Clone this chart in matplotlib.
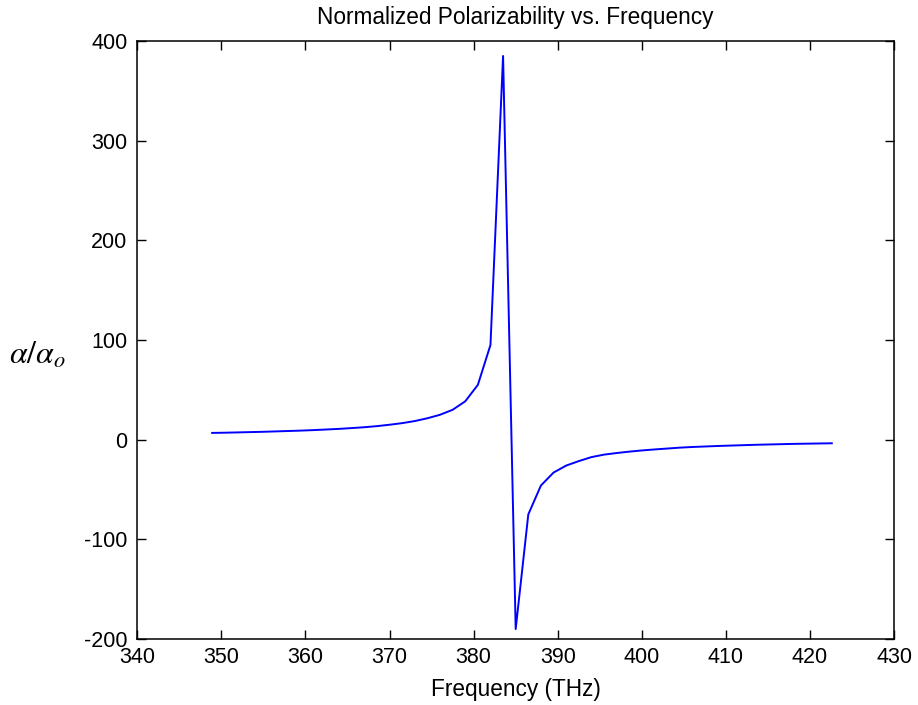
#!/usr/bin/env python3

import matplotlib
matplotlib.use("Agg")
import matplotlib.pyplot as plt


# frequency samples (THz)
freq = [348.9, 350.4, 351.9, 353.4, 354.9, 356.4, 357.9, 359.4, 360.9, 362.4,
        363.9, 365.4, 367.0, 368.5, 370.0, 371.5, 373.0, 374.5, 376.0, 377.5,
        379.0, 380.5, 382.0, 383.5, 385.0, 386.5, 388.0, 389.5, 391.0, 392.5,
        394.0, 395.5, 397.0, 398.5, 400.0, 401.5, 403.0, 404.5, 406.1, 407.6,
        409.1, 410.6, 412.1, 413.6, 415.1, 416.6, 418.1, 419.6, 421.1, 422.6]

# normalized polarizability alpha/alpha_o
alpha = [6.8, 7.0, 7.3, 7.6, 7.9, 8.3, 8.7, 9.1, 9.6, 10.2,
         10.8, 11.6, 12.5, 13.6, 15.0, 16.6, 18.7, 21.5, 25.0, 30.0,
         38.5, 55.0, 95.0, 385.0, -190.0, -75.0, -46.0, -33.0, -26.0, -21.5,
         -17.5, -15.0, -13.4, -12.0, -10.8, -9.8, -8.9, -8.0, -7.3, -6.8,
         -6.3, -5.9, -5.5, -5.1, -4.8, -4.5, -4.2, -4.0, -3.8, -3.6]

x_ticks = [340, 350, 360, 370, 380, 390, 400, 410, 420, 430]
y_ticks = [-200, -100, 0, 100, 200, 300, 400]

plt.rcParams['font.family'] = ['Liberation Sans', 'DejaVu Sans']
plt.rcParams['mathtext.fontset'] = 'stix'
plt.rcParams['axes.unicode_minus'] = False

fig = plt.figure(figsize=(9.18, 7.05), dpi=100)
ax = fig.add_axes([0.1496, 0.0936, 0.8243, 0.8482])

ax.plot(freq, alpha, color=(0, 0, 1), lw=1.4)

ax.set_xlim(340, 430)
ax.set_ylim(-200, 400)
ax.set_xticks(x_ticks)
ax.set_yticks(y_ticks)
ax.tick_params(direction='in', top=True, right=True, length=6.5, width=1,
               labelsize=15.5, colors='black')
ax.tick_params(axis='x', pad=6)
ax.tick_params(axis='y', pad=7)
for s in ax.spines.values():
    s.set_linewidth(1.1)

ax.set_title("Normalized Polarizability vs. Frequency", fontsize=16.3, pad=12)
ax.set_xlabel("Frequency (THz)", fontsize=16.3, labelpad=7)
fig.text(37 / 918, 1 - 356 / 705, r"$\alpha/\alpha_o$", fontsize=23,
         ha='center', va='center')

fig.savefig("out.png", dpi=100)
